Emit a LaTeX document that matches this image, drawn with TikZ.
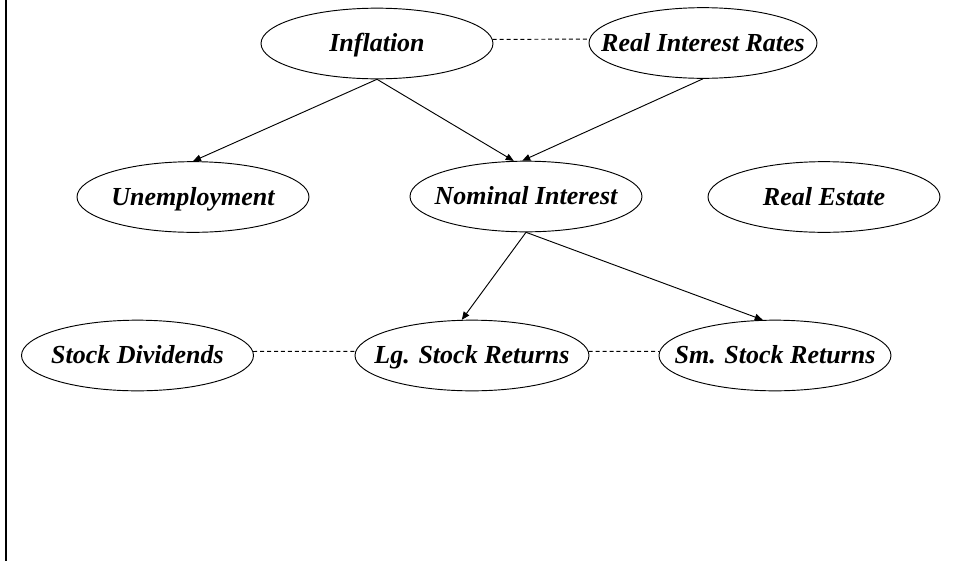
\documentclass[tikz,border=0pt]{standalone}
\usepackage{fontspec}
\setmainfont{Liberation Serif}
\usetikzlibrary{shapes.geometric,arrows.meta}
\newcommand{\lblz}[1]{\makebox[0pt]{#1}}
\begin{document}
\begin{tikzpicture}[x=0.75pt,y=-0.75pt,
  var/.style={draw,ellipse,inner sep=0pt,line width=0.7pt,
    minimum width=174pt,minimum height=53pt,
    text height=12pt,text depth=0pt,
    font=\fontsize{19.5}{22}\selectfont\bfseries\itshape},
  arr/.style={line width=0.7pt,-{Triangle[length=6pt,width=5pt]}},
  assoc/.style={line width=0.7pt,dash pattern=on 3pt off 2.2pt}]
\useasboundingbox (0,0) rectangle (953,561);
\draw[line width=1.5pt] (5.5,0) -- (5.5,561);
\node[var] (infl) at (377,43.5) {\lblz{Inflation}};
\node[var,minimum width=171pt] (real) at (703,43) {\lblz{Real Interest Rates}};
\node[var] (unemp) at (193,197) {\lblz{Unemployment}};
\node[var] (nom) at (526,196.5) {\lblz{Nominal Interest}};
\node[var] (estate) at (824,197) {\lblz{Real Estate}};
\node[var] (div) at (137.5,355.5) {\lblz{Stock Dividends}};
\node[var,minimum width=175.5pt] (lg) at (472,355.5) {\lblz{Lg. Stock Returns}};
\node[var] (sm) at (775,355.5) {\lblz{Sm. Stock Returns}};
\draw[assoc] (infl.2) -- (real.178);
\draw[assoc] (div.2) -- (lg.178);
\draw[assoc] (lg.2) -- (sm.178);
\draw[arr] (infl.south) -- (unemp.north);
\draw[arr] (infl.south) -- (nom.109);
\draw[arr] (real.south) -- (nom.96);
\draw[arr] (nom.south) -- (lg.106);
\draw[arr] (nom.south) -- (sm.109);
\end{tikzpicture}
\end{document}
